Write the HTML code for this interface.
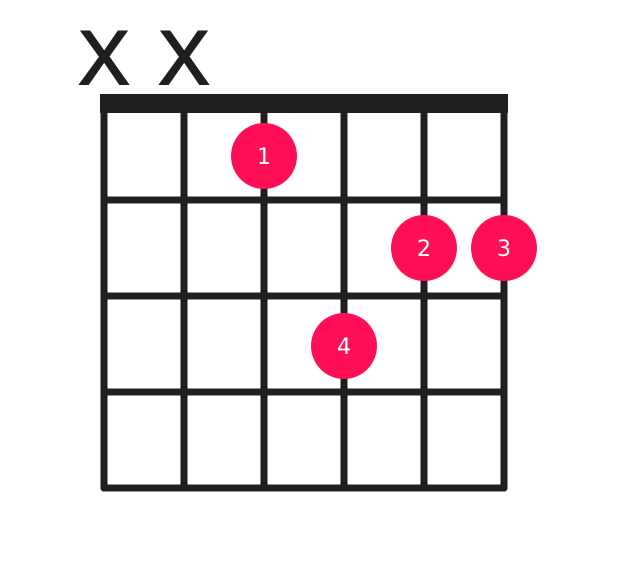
<!DOCTYPE html>
<html><head><style>html,body{margin:0;padding:0;background:#fff;}</style></head>
<body>
<svg width="640" height="560" xmlns="http://www.w3.org/2000/svg">
<rect width="640" height="560" fill="#fff"/>
<text x="104" y="84" font-family="Liberation Sans, sans-serif" font-size="76" fill="#1f1f1f" text-anchor="middle" stroke="#1f1f1f" stroke-width="2">X</text>
<text x="184" y="84" font-family="Liberation Sans, sans-serif" font-size="76" fill="#1f1f1f" text-anchor="middle" stroke="#1f1f1f" stroke-width="2">X</text>
<g stroke="#1f1f20" stroke-width="7" stroke-linecap="round">
<line x1="104" y1="100" x2="104" y2="488"/>
<line x1="184" y1="100" x2="184" y2="488"/>
<line x1="264" y1="100" x2="264" y2="488"/>
<line x1="344" y1="100" x2="344" y2="488"/>
<line x1="424" y1="100" x2="424" y2="488"/>
<line x1="504" y1="100" x2="504" y2="488"/>
<line x1="104" y1="200" x2="504" y2="200"/>
<line x1="104" y1="296" x2="504" y2="296"/>
<line x1="104" y1="392" x2="504" y2="392"/>
<line x1="104" y1="488" x2="504" y2="488"/>
</g>
<rect x="100" y="94" width="408" height="19" fill="#1f1f20"/>
<g fill="#ff0f55">
<circle cx="264" cy="156" r="33"/>
<circle cx="424" cy="248" r="33"/>
<circle cx="504" cy="248" r="33"/>
<circle cx="344" cy="346" r="33"/>
</g>
<g font-family="DejaVu Sans, sans-serif" font-size="22" fill="#fff" text-anchor="middle">
<text x="264" y="164">1</text>
<text x="424" y="256">2</text>
<text x="504" y="256">3</text>
<text x="344" y="354">4</text>
</g>
</svg>
</body></html>
